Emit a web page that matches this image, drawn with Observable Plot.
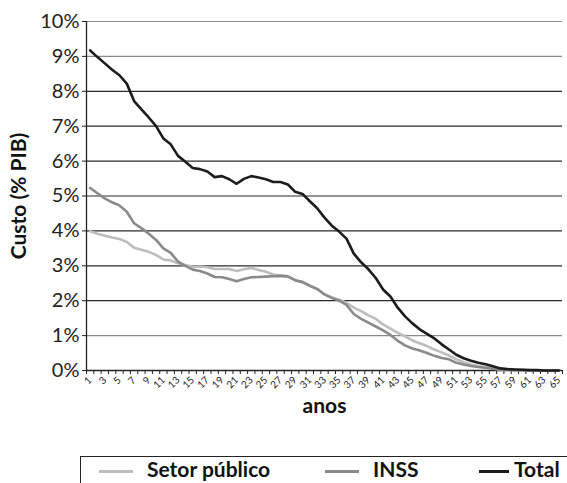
<!DOCTYPE html>
<html><head><meta charset="utf-8">
<script src="https://cdn.jsdelivr.net/npm/d3@7"></script>
<script src="https://cdn.jsdelivr.net/npm/@observablehq/plot@0.6"></script>
<style>
body{margin:0;background:#fff;font-family:Lato,"Open Sans",sans-serif;}
#wrap{position:relative;width:567px;height:483px;overflow:hidden;}
#legend{position:absolute;left:80px;top:456px;width:600px;height:40px;border-left:1.5px solid #222;border-top:1.5px solid #222;}
.item{position:absolute;top:0px;font-weight:bold;font-size:21px;line-height:24px;color:#111;white-space:nowrap;}
.sw{position:absolute;top:13px;height:2.5px;}
</style></head><body><div id="wrap"><div id="chart"></div><div id="legend"></div></div>
<script>
const years = [1,2,3,4,5,6,7,8,9,10,11,12,13,14,15,16,17,18,19,20,21,22,23,24,25,26,27,28,29,30,31,32,33,34,35,36,37,38,39,40,41,42,43,44,45,46,47,48,49,50,51,52,53,54,55,56,57,58,59,60,61,62,63,64,65];
const setorPublico = [3.99,3.92,3.86,3.81,3.77,3.68,3.52,3.46,3.40,3.31,3.18,3.15,3.07,3.02,2.97,2.98,2.96,2.91,2.91,2.91,2.85,2.90,2.94,2.88,2.83,2.75,2.72,2.69,2.60,2.52,2.42,2.33,2.18,2.10,2.03,1.94,1.80,1.70,1.58,1.48,1.32,1.20,1.08,0.98,0.86,0.78,0.70,0.60,0.52,0.43,0.32,0.24,0.17,0.13,0.09,0.06,0.03,0.02,0.01,0.01,0.01,0,0,0,0];
const inss = [5.23,5.08,4.93,4.82,4.73,4.55,4.22,4.08,3.92,3.74,3.50,3.37,3.12,3.00,2.89,2.85,2.78,2.68,2.67,2.62,2.56,2.62,2.67,2.68,2.69,2.70,2.71,2.70,2.58,2.54,2.43,2.34,2.18,2.08,2.00,1.88,1.62,1.48,1.37,1.26,1.15,1.02,0.85,0.72,0.63,0.57,0.50,0.42,0.36,0.32,0.22,0.17,0.13,0.10,0.08,0.05,0.03,0.02,0.01,0.01,0,0,0,0,0];
const total = [9.17,8.98,8.80,8.62,8.46,8.22,7.72,7.48,7.25,7.00,6.65,6.48,6.15,5.98,5.80,5.77,5.70,5.54,5.57,5.48,5.35,5.49,5.57,5.53,5.48,5.40,5.40,5.33,5.12,5.06,4.85,4.65,4.38,4.15,3.98,3.78,3.35,3.10,2.90,2.65,2.32,2.12,1.80,1.55,1.35,1.18,1.05,0.92,0.75,0.60,0.45,0.35,0.28,0.22,0.18,0.12,0.06,0.04,0.03,0.02,0.01,0.01,0,0,0];
const yTicks = [0,1,2,3,4,5,6,7,8,9,10];
const xTickLabels = [1,3,5,7,9,11,13,15,17,19,21,23,25,27,29,31,33,35,37,39,41,43,45,47,49,51,53,55,57,59,61,63,65];
const seriesNames = ["Setor público","INSS","Total"];
const seriesColors = ["#bdbdbd","#8a8a8a","#1c1c1c"];

const rows = (vals) => years.map((yr, i) => ({year: yr, v: vals[i]}));
const boundaries = years.map(y => y - 0.5).concat([years[years.length-1] + 0.5]);

const chart = Plot.plot({
  width: 567, height: 450,
  marginLeft: 86, marginRight: 5, marginTop: 21, marginBottom: 80,
  x: {domain: [0.5, 65.5]},
  y: {domain: [0, 10]},
  style: {fontFamily: "Lato, 'Open Sans', sans-serif", color: "#222", background: "#fff"},
  marks: [
    Plot.ruleY(yTicks.filter(d => d > 0), {stroke: d => (d === 10 || d === 9 || d === 1) ? "#8a8a8a" : "#2a2a2a", strokeWidth: 1.2}),
    Plot.axisY({ticks: yTicks, tickFormat: d => d + "%", fontSize: 20, tickSize: 4, tickPadding: 3, label: null}),
    Plot.axisX({ticks: boundaries, tickFormat: () => "", tickSize: 4, label: null}),
    Plot.axisX({ticks: xTickLabels, tickRotate: -45, tickSize: 0, tickPadding: 8, fontSize: 10, label: null}),
    Plot.ruleX([0.5], {stroke: "#222", strokeWidth: 1.3}),
    Plot.ruleY([0], {stroke: "#222", strokeWidth: 1.3}),
    Plot.line(rows(setorPublico), {x: "year", y: "v", stroke: seriesColors[0], strokeWidth: 2.6}),
    Plot.line(rows(inss), {x: "year", y: "v", stroke: seriesColors[1], strokeWidth: 2.6}),
    Plot.line(rows(total), {x: "year", y: "v", stroke: seriesColors[2], strokeWidth: 2.6}),
    Plot.text(["anos"], {frameAnchor: "bottom", dy: 42, fontWeight: "bold", fontSize: 21, fill: "#111"}),
    Plot.text(["Custo (% PIB)"], {frameAnchor: "left", textAnchor: "middle", dx: -67, rotate: -90, fontWeight: "bold", fontSize: 21, fill: "#111"})
  ]
});
document.getElementById("chart").appendChild(chart);

const legend = document.getElementById("legend");
const swLeft = [18, 244, 398];
const txtLeft = [66, 292, 433];
const swWidth = [34, 34, 30];
seriesNames.forEach((n, i) => {
  const sw = document.createElement("div");
  sw.className = "sw";
  sw.style.left = swLeft[i] + "px";
  sw.style.width = swWidth[i] + "px";
  sw.style.background = seriesColors[i];
  legend.appendChild(sw);
  const t = document.createElement("div");
  t.className = "item";
  t.style.left = txtLeft[i] + "px";
  t.textContent = n;
  legend.appendChild(t);
});
</script>
</body></html>
